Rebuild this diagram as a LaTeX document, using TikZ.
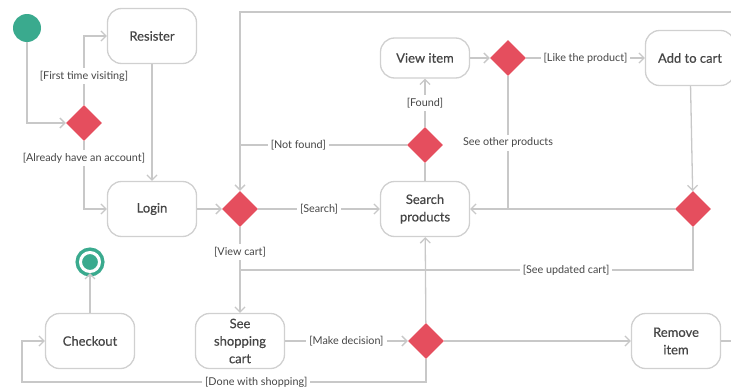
\documentclass[tikz,border=0pt]{standalone}
\usepackage{fontspec}
\setmainfont{Lato}
\newfontfamily\actfont{Lato}[FakeBold=0.5]
\usetikzlibrary{calc,shapes.geometric,arrows.meta}
\definecolor{flowgray}{RGB}{200,200,200}
\definecolor{boxgray}{RGB}{208,208,208}
\definecolor{decred}{RGB}{229,78,94}
\definecolor{stategreen}{RGB}{58,170,142}
\definecolor{txtgray}{RGB}{70,70,70}

\begin{document}
\begin{tikzpicture}[x=1pt, y=-1pt, font=\fontsize{10.8}{12}\selectfont, text=txtgray,
>={Straight Barb[length=5pt, width=10pt]},
act/.style={rectangle, rounded corners=14pt, draw=boxgray, line width=1.3pt, minimum width=89pt, minimum height=55pt, align=center, font=\actfont\fontsize{13}{17.5}\selectfont},
flat/.style={minimum height=40pt},
dec/.style={diamond, fill=decred, minimum width=36pt, minimum height=36pt, inner sep=0pt},
initial/.style={circle, fill=stategreen, minimum size=28pt, inner sep=0pt},
final/.style={circle, fill=stategreen, draw=white, line width=3pt, minimum size=19pt, inner sep=0pt, preaction={draw=stategreen, line width=10pt}},
guard/.style={fill=white, inner sep=3pt},
line/.style={draw=flowgray, line width=1.3pt},
flow/.style={line, ->},]
 \useasboundingbox (0,0) rectangle (731,391);

 \node[initial] (start) at (27,28) {};
 \node[dec] (entry) at (84,123) {};
 \node[act] (login) at (152,209) {Login};
 \node[act, above of=login, node distance=173pt] (resister) {Resister};
 \node[dec, right of=login, node distance=88pt] (menu) {};
 \node[act, right of=menu, node distance=185pt] (search) {Search\\products};
 \node[dec, above of=search, node distance=64pt] (found) {};
 \node[act, flat, above of=found, node distance=87pt] (viewitem) {View item};
 \node[dec, right of=viewitem, node distance=83pt] (like) {};
 \node[act, right of=like, node distance=182pt] (addcart) {Add to cart};
 \node[dec, right of=search, node distance=268pt] (updated) {};
 \node[act, below of=menu, node distance=132pt] (cart) {See\\shopping\\cart};
 \node[dec, right of=cart, node distance=186pt] (decide) {};
 \node[act, right of=decide, node distance=250pt] (remove) {Remove\\item};
 \node[act, left of=cart, node distance=150pt] (checkout) {Checkout};
 \node[final, above of=checkout, node distance=79pt] (end) {};
 \coordinate (offpage) at (745,12);
 \coordinate (joincart) at (240,270);
 \coordinate (doneturn) at (22,382);

 \draw[flow] (start) |- (entry);
 \draw[flow] (entry) |- node[guard, pos=0.21] {[First time visiting]} (resister);
 \draw[flow] (entry) |- node[guard, pos=0.125] {[Already have an account]} (login);
 \draw[flow] (resister) -- (login);
 \draw[flow] (login) -- (menu);
 \draw[flow] (menu) -- node[guard] {[Search]} (search);
 \draw[flow] (menu) -- node[guard, pos=0.29] {[View cart]} (cart);
 \draw[line] (updated) |- node[guard, pos=0.64] {[See updated cart]} (joincart);
 \draw[line] (search) -- (found);
 \draw[flow] (found) -- node[guard] {[Found]} (viewitem);
 \draw[line] (found) -- node[guard, pos=0.65] {[Not found]} (found -| menu);
 \draw[flow] (viewitem) -- (like);
 \draw[flow] (like) -- node[guard] {[Like the product]} (addcart);
 \draw[line] (like) -- node[guard] {See other products} (like |- search);
 \draw[flow] (addcart) -- (updated);
 \draw[flow] (updated) -- (search);
 \draw[flow] (cart) -- node[guard] {[Make decision]} (decide);
 \draw[flow] (decide) -- (search);
 \draw[flow] (decide) -- (remove);
 \draw[flow] (remove) -| (offpage) -| (menu);
 \draw[flow] (decide) |- node[guard, pos=0.71] {[Done with shopping]} (doneturn) |- (checkout);
 \draw[flow] (checkout) -- (end);
\end{tikzpicture}
\end{document}
